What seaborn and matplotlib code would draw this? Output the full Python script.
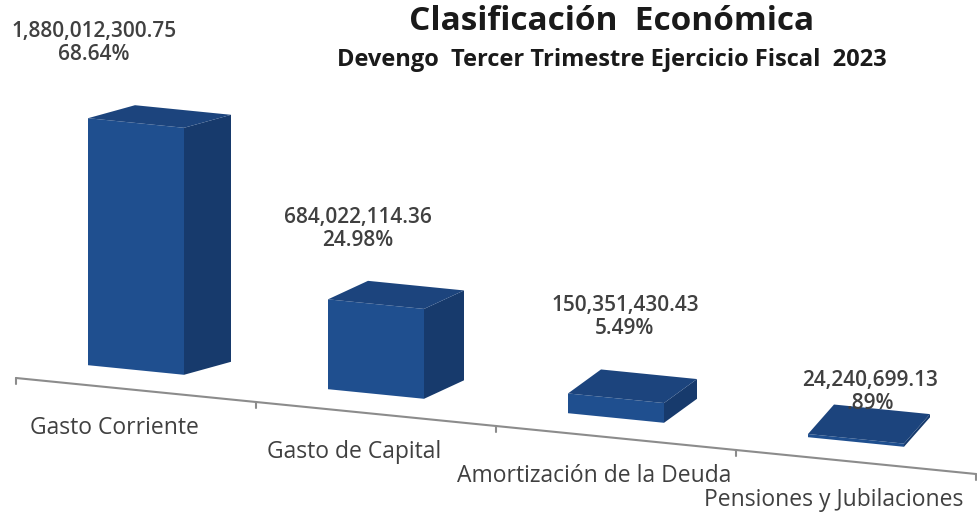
# %% Clasificacion economica - devengo 3er trimestre 2023
import numpy as np
import pandas as pd
import matplotlib
matplotlib.use("Agg")
import matplotlib.pyplot as plt
from matplotlib.patches import Polygon
from matplotlib.transforms import Affine2D, IdentityTransform
import seaborn as sns

categories = ["Gasto Corriente", "Gasto de Capital",
              "Amortización de la Deuda", "Pensiones y Jubilaciones"]
amounts = [1880012300.75, 684022114.36, 150351430.43, 24240699.13]
amount_labels = ["1,880,012,300.75", "684,022,114.36", "150,351,430.43", "24,240,699.13"]
pct_labels = ["68.64%", "24.98%", "5.49%", ".89%"]

df = pd.DataFrame({"Concepto": categories, "Devengo": amounts})

# %% figure setup
sns.set_theme(style="white")
plt.rcParams["font.family"] = ["Open Sans", "DejaVu Sans"]

W, H = 978, 514
fig = plt.figure(figsize=(W / 100, H / 100), dpi=100)
ax = fig.add_axes([16 / W, 0, 960 / W, 1])

front = "#1f4f8f"
side = "#173a6c"
top = "#1c447d"
text_col = "#404040"

sns.barplot(data=df, x="Concepto", y="Devengo", color=front, saturation=1,
            width=0.4, ax=ax)

# pixel scale: tallest bar ~247 px, zero level 156 px from bottom
s = 247 / 1.88e9
ax.set_ylim(-156 / s, (H - 156) / s)
ax.set_xlim(-0.5, 3.5)
ax.axis("off")

# shear in display space so the floor tilts down to the right
k = 0.1
shear = Affine2D(np.array([[1, 0, 0], [-k, 1, k * 16], [0, 0, 1]]))
trans = ax.transData + shear

# %% 3d faces
for i, p in enumerate(ax.patches):
    p.set_transform(trans)
    p.set_clip_on(False)
    p.set_edgecolor("none")
    x, w, h = p.get_x(), p.get_width(), p.get_height()
    d = np.array([47 - 7 * i, 13 + 5.5 * i])
    fl_t = trans.transform((x, h))
    fr_t = trans.transform((x + w, h))
    fr_b = trans.transform((x + w, 0))
    fig.add_artist(Polygon([fr_b, fr_t, fr_t + d, fr_b + d], closed=True,
                           facecolor=side, edgecolor="none", transform=IdentityTransform()))
    fig.add_artist(Polygon([fl_t, fr_t, fr_t + d, fl_t + d], closed=True,
                           facecolor=top, edgecolor="none", transform=IdentityTransform()))

# %% floor line, ticks and category labels
yb = -20 / s
ax.plot([-0.5, 3.5], [yb, yb], transform=trans, color="#8c8c8c", lw=1.5, clip_on=False)
for b in np.arange(-0.5, 4, 1):
    ax.plot([b, b], [yb, yb - 6 / s], transform=trans, color="#8c8c8c", lw=1.5, clip_on=False)

for i, cat in enumerate(categories):
    px, py = trans.transform((i, yb))
    fig.text(px - 22, py - 38, cat, transform=IdentityTransform(), ha="center", va="center",
             fontsize=16.5, color=text_col)

# %% value labels
label_off = [(-42, 80), (-18, 75), (9, 81), (14, 47)]
for i, p in enumerate(ax.patches):
    x, w, h = p.get_x(), p.get_width(), p.get_height()
    px, py = trans.transform((x + w / 2, h))
    fig.text(px + label_off[i][0], py + label_off[i][1],
             amount_labels[i] + "\n" + pct_labels[i], transform=IdentityTransform(),
             ha="center", va="center", fontsize=15, fontweight="semibold",
             color=text_col, linespacing=1.1)

# %% titles
fig.text(612 / W, 1 - 22 / H, "Clasificación  Económica", ha="center", va="center",
         fontsize=24, fontweight="bold", color="#1a1a1a")
fig.text(612 / W, 1 - 60 / H, "Devengo  Tercer Trimestre Ejercicio Fiscal  2023",
         ha="center", va="center", fontsize=17, fontweight="bold", color="#1a1a1a")

fig.savefig("out.png", dpi=100)
